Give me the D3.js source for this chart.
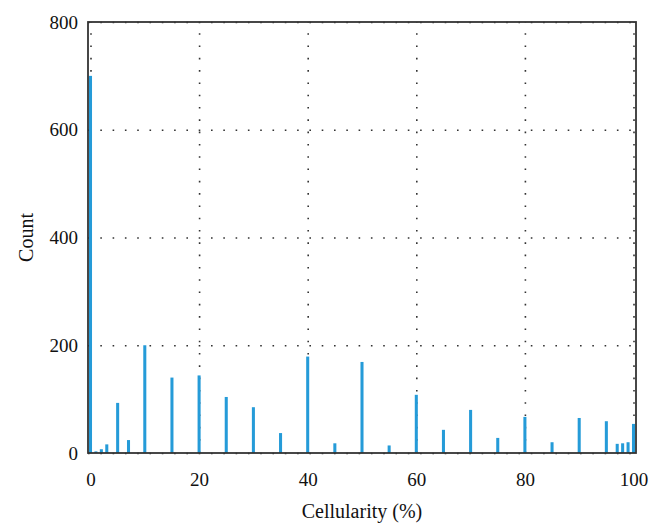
<!DOCTYPE html>
<html>
<head>
<meta charset="utf-8">
<script src="https://cdn.jsdelivr.net/npm/d3@7"></script>
<style>
  body { margin: 0; background: #fff; }
  svg { display: block; }
  .tick text { font-family: "Liberation Serif", "DejaVu Serif", serif; font-size: 19px; fill: #111; }
  .grid line { stroke: #333; stroke-width: 1.6; stroke-dasharray: 1.6, 10.7; }
  .grid path { display: none; }
</style>
</head>
<body>
<div id="chart"></div>
<script>
// histogram of cellularity, one bin per percent
var cellularity = [0, 1, 2, 3, 5, 7, 10, 15, 20, 25, 30, 35, 40, 45, 50,
                   55, 60, 65, 70, 75, 80, 85, 90, 95, 97, 98, 99, 100];
var counts      = [700, 3, 7, 16, 93, 24, 200, 140, 144, 104, 85, 37, 179, 18, 169,
                   14, 108, 43, 80, 28, 67, 20, 65, 59, 17, 18, 20, 54];
var xTicks = [0, 20, 40, 60, 80, 100];
var yTicks = [0, 200, 400, 600, 800];

var w = 662, h = 531;
// plot frame (note: "top" is reserved on window, so use plot_* names)
var plotLeft = 88, plotRight = 636, plotTop = 22, plotBottom = 453;

var data = cellularity.map(function(c, i) { return {c: c, n: counts[i]}; });

var xScale = d3.scaleLinear().domain([-0.46, 100.46]).range([plotLeft, plotRight]);
var yScale = d3.scaleLinear().domain([0, 800]).range([plotBottom, plotTop]);

var svg = d3.select("#chart").append("svg")
    .attr("width", w)
    .attr("height", h);

// dotted grid
svg.append("g")
    .attr("class", "grid")
    .attr("transform", "translate(0," + plotBottom + ")")
    .call(d3.axisBottom(xScale).tickValues(xTicks).tickSize(-(plotBottom - plotTop)).tickFormat(""));

svg.append("g")
    .attr("class", "grid")
    .attr("transform", "translate(" + plotLeft + ",0)")
    .call(d3.axisLeft(yScale).tickValues(yTicks).tickSize(-(plotRight - plotLeft)).tickFormat(""));

// bars
var halfW = 0.28;
svg.append("g")
    .selectAll("rect")
    .data(data)
    .enter().append("rect")
    .attr("x", function(d) { return xScale(d.c - halfW); })
    .attr("width", function(d) { return xScale(d.c + halfW) - xScale(d.c - halfW); })
    .attr("y", function(d) { return yScale(d.n); })
    .attr("height", function(d) { return plotBottom - yScale(d.n); })
    .attr("fill", "#259bd8");

// frame
svg.append("rect")
    .attr("x", plotLeft)
    .attr("y", plotTop)
    .attr("width", plotRight - plotLeft)
    .attr("height", plotBottom - plotTop)
    .attr("fill", "none")
    .attr("stroke", "#333")
    .attr("stroke-width", 1.8);

// tick labels
var xAxis = svg.append("g")
    .attr("transform", "translate(0," + plotBottom + ")")
    .call(d3.axisBottom(xScale).tickValues(xTicks).tickSize(0).tickPadding(20));
xAxis.select(".domain").remove();

var yAxis = svg.append("g")
    .attr("transform", "translate(" + plotLeft + ",0)")
    .call(d3.axisLeft(yScale).tickValues(yTicks).tickSize(0).tickPadding(10));
yAxis.select(".domain").remove();

// axis titles
svg.append("text")
    .attr("x", (plotLeft + plotRight) / 2)
    .attr("y", 518)
    .attr("text-anchor", "middle")
    .style("font-family", "Liberation Serif, DejaVu Serif, serif")
    .style("font-size", "20px")
    .attr("fill", "#111")
    .text("Cellularity (%)");

svg.append("text")
    .attr("transform", "translate(33," + ((plotTop + plotBottom) / 2) + ") rotate(-90)")
    .attr("text-anchor", "middle")
    .style("font-family", "Liberation Serif, DejaVu Serif, serif")
    .style("font-size", "20px")
    .attr("fill", "#111")
    .text("Count");
</script>
</body>
</html>
